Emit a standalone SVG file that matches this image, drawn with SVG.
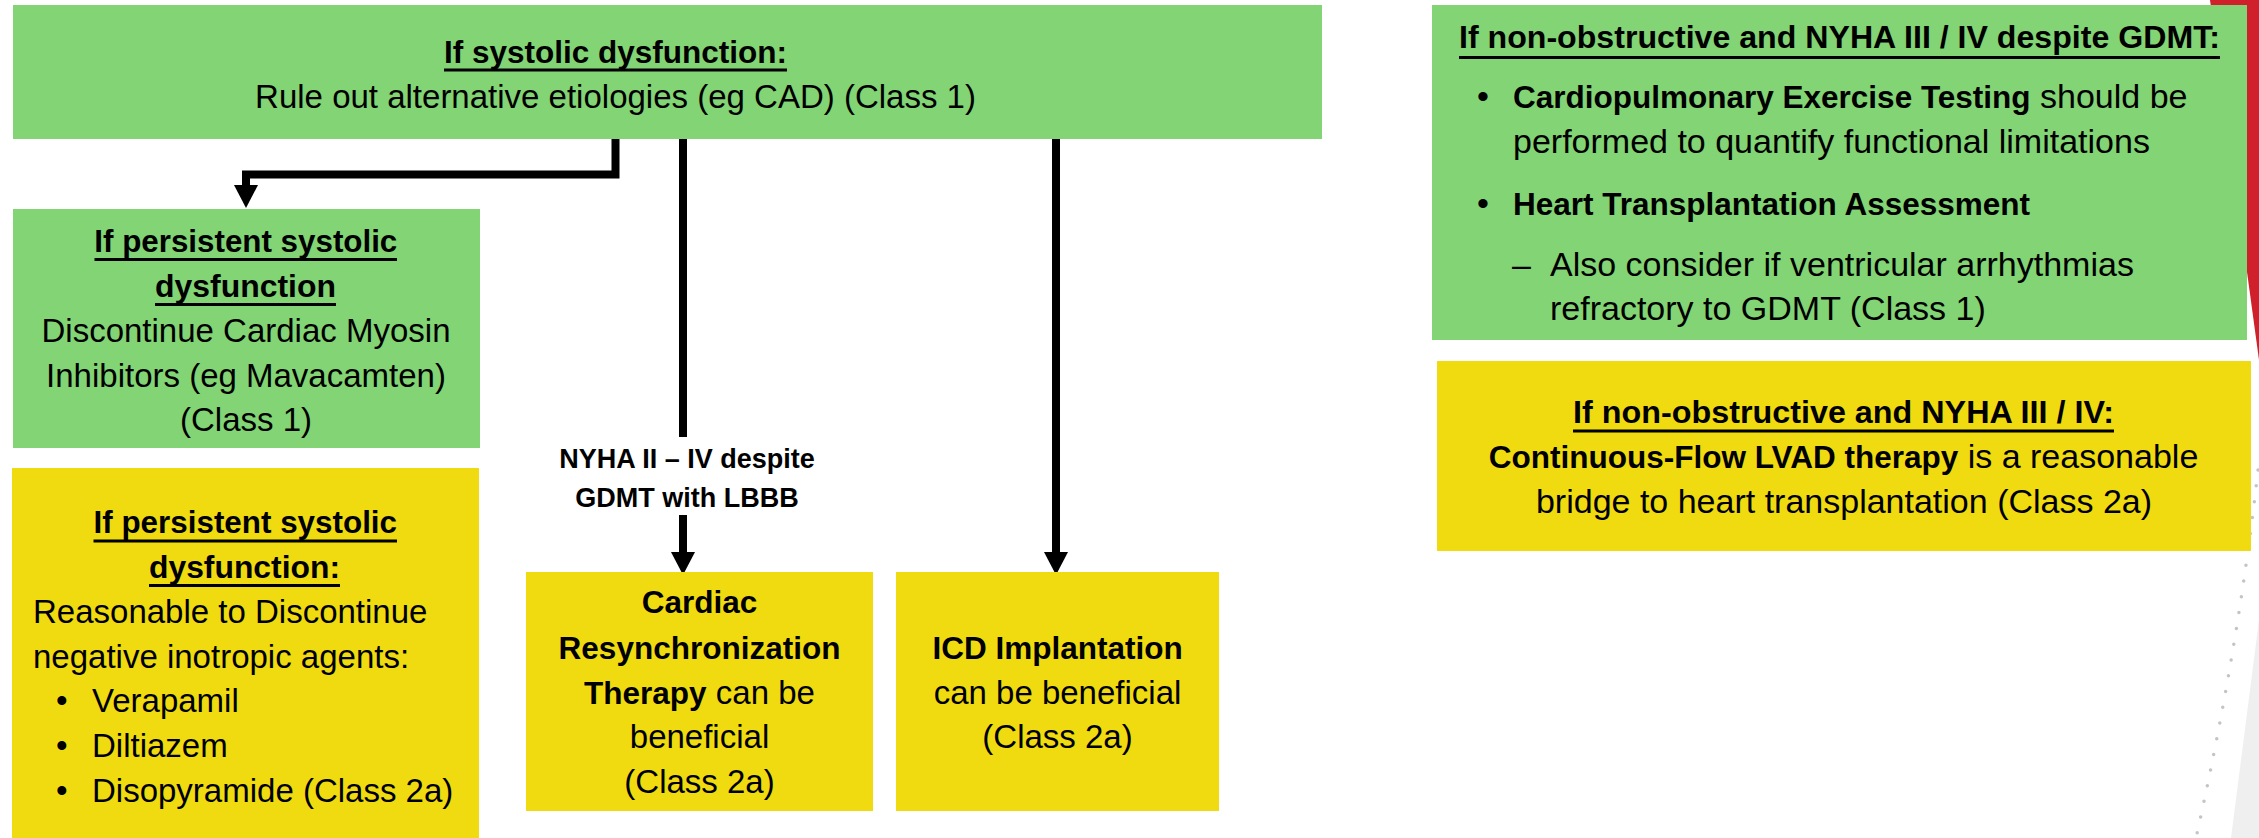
<svg xmlns="http://www.w3.org/2000/svg" width="2259" height="838" viewBox="0 0 2259 838">
  <style>
    .green { fill: #82D474; }
    .yellow { fill: #EFDB0F; }
    text { font-family: "Liberation Sans", Arial, sans-serif; fill: #000; }
    .t { font-size: 33px; }
    .t34 { font-size: 34px; }
    .h { font-size: 31.5px; font-weight: 700; }
    .bold { font-weight: 700; font-size: 31.5px; }
    .lbl { font-size: 27px; font-weight: 700; }
    .mid { text-anchor: middle; }
    .ul { stroke: #000; stroke-width: 3; }
    .wire { fill: none; stroke: #000; stroke-width: 8; stroke-linejoin: miter; stroke-linecap: butt; }
  </style>
  <defs>
    <marker id="arrow" viewBox="0 0 23 24" refX="1" refY="12" markerWidth="23" markerHeight="24" markerUnits="userSpaceOnUse" orient="auto">
      <path d="M0,0 L23,12 L0,24 Z" fill="#000"/>
    </marker>
  </defs>

  <rect width="2259" height="838" fill="#fff"/>

  <!-- background decoration at the right edge -->
  <g id="decor">
    <polygon points="2210,0 2259,0 2259,360" fill="#D0202C"/>
    <polygon points="2259,620 2259,838 2231,838" fill="#efefef"/>
    <path d="M2258,470 Q2238,650 2196,838" fill="none" stroke="#c4c4c4" stroke-width="3.5" stroke-linecap="round" stroke-dasharray="0 16"/>
  </g>

  <!-- connectors -->
  <g id="connectors">
    <path class="wire" d="M615.5,139 V174.5 H246 V186" marker-end="url(#arrow)"/>
    <line class="wire" x1="683" y1="139" x2="683" y2="437"/>
    <line class="wire" x1="683" y1="515" x2="683" y2="553" marker-end="url(#arrow)"/>
    <line class="wire" x1="1056" y1="139" x2="1056" y2="553" marker-end="url(#arrow)"/>
    <text class="lbl mid" x="687" y="468">NYHA II – IV despite</text>
    <text class="lbl mid" x="687" y="507">GDMT with LBBB</text>
  </g>

  <!-- top decision box -->
  <g id="node-systolic">
    <rect class="green" x="13" y="5" width="1309" height="134"/>
    <text class="h mid" x="615.5" y="63" textLength="343" lengthAdjust="spacingAndGlyphs">If systolic dysfunction:</text>
    <line class="ul" x1="444" y1="70" x2="787" y2="70"/>
    <text class="t mid" x="615.5" y="108">Rule out alternative etiologies (eg CAD) (Class 1)</text>
  </g>

  <!-- discontinue myosin inhibitors -->
  <g id="node-cmi">
    <rect class="green" x="13" y="209" width="467" height="239"/>
    <text class="h mid" x="245.8" y="252" textLength="303" lengthAdjust="spacingAndGlyphs">If persistent systolic</text>
    <line class="ul" x1="94.5" y1="259.5" x2="397" y2="259.5"/>
    <text class="h mid" x="245.5" y="297" textLength="181" lengthAdjust="spacingAndGlyphs">dysfunction</text>
    <line class="ul" x1="155" y1="304.5" x2="336" y2="304.5"/>
    <text class="t mid" x="246" y="342">Discontinue Cardiac Myosin</text>
    <text class="t mid" x="246" y="387">Inhibitors (eg Mavacamten)</text>
    <text class="t mid" x="246" y="431">(Class 1)</text>
  </g>

  <!-- discontinue negative inotropes -->
  <g id="node-inotropes">
    <rect class="yellow" x="12" y="468" width="467" height="370"/>
    <text class="h mid" x="245.3" y="533" textLength="303.5" lengthAdjust="spacingAndGlyphs">If persistent systolic</text>
    <line class="ul" x1="93.5" y1="541" x2="397" y2="541"/>
    <text class="h mid" x="244.5" y="578" textLength="191" lengthAdjust="spacingAndGlyphs">dysfunction:</text>
    <line class="ul" x1="149" y1="585.5" x2="340" y2="585.5"/>
    <text class="t" x="33" y="623">Reasonable to Discontinue</text>
    <text class="t" x="33" y="668">negative inotropic agents:</text>
    <text class="t" x="56" y="712">•</text>
    <text class="t" x="92" y="712">Verapamil</text>
    <text class="t" x="56" y="757">•</text>
    <text class="t" x="92" y="757">Diltiazem</text>
    <text class="t" x="56" y="802">•</text>
    <text class="t" x="92" y="802">Disopyramide (Class 2a)</text>
  </g>

  <!-- cardiac resynchronization therapy -->
  <g id="node-crt">
    <rect class="yellow" x="526" y="572" width="347" height="239"/>
    <text class="bold mid" x="699.5" y="613">Cardiac</text>
    <text class="bold mid" x="699.5" y="659">Resynchronization</text>
    <text class="t mid" x="699.5" y="704"><tspan class="bold">Therapy</tspan> can be</text>
    <text class="t mid" x="699.5" y="748">beneficial</text>
    <text class="t mid" x="699.5" y="793">(Class 2a)</text>
  </g>

  <!-- ICD implantation -->
  <g id="node-icd">
    <rect class="yellow" x="896" y="572" width="323" height="239"/>
    <text class="bold mid" x="1057.5" y="659">ICD Implantation</text>
    <text class="t mid" x="1057.5" y="704">can be beneficial</text>
    <text class="t mid" x="1057.5" y="748">(Class 2a)</text>
  </g>

  <!-- advanced heart failure assessment -->
  <g id="node-advanced">
    <rect class="green" x="1432" y="5" width="815" height="335"/>
    <text class="h mid" x="1839.5" y="48" textLength="761" lengthAdjust="spacingAndGlyphs">If non-obstructive and NYHA III / IV despite GDMT:</text>
    <line class="ul" x1="1459" y1="57.5" x2="2220" y2="57.5"/>
    <text class="t34" x="1477" y="108">•</text>
    <text class="t34" x="1513" y="108"><tspan class="bold">Cardiopulmonary Exercise Testing</tspan> should be</text>
    <text class="t34" x="1513" y="153">performed to quantify functional limitations</text>
    <text class="t34" x="1477" y="215">•</text>
    <text class="bold" x="1513" y="215">Heart Transplantation Assessment</text>
    <text class="t34" x="1512" y="276">–</text>
    <text class="t34" x="1550" y="276">Also consider if ventricular arrhythmias</text>
    <text class="t34" x="1550" y="320">refractory to GDMT (Class 1)</text>
  </g>

  <!-- LVAD bridge -->
  <g id="node-lvad">
    <rect class="yellow" x="1437" y="361" width="814" height="190"/>
    <text class="h mid" x="1843.5" y="423" textLength="541" lengthAdjust="spacingAndGlyphs">If non-obstructive and NYHA III / IV:</text>
    <line class="ul" x1="1573" y1="431" x2="2114" y2="431"/>
    <text class="t34 mid" x="1843.5" y="468"><tspan class="bold">Continuous-Flow LVAD therapy</tspan> is a reasonable</text>
    <text class="t34 mid" x="1844" y="513">bridge to heart transplantation (Class 2a)</text>
  </g>
</svg>
